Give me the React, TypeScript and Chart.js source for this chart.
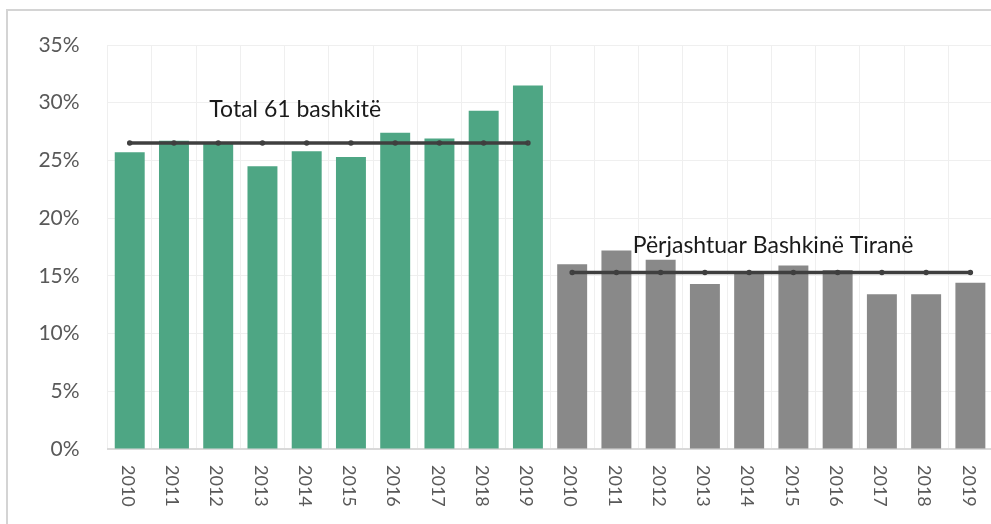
import React, { useEffect, useRef } from "react";
import { Chart, registerables } from "chart.js";

Chart.register(...registerables);

const years = ["2010", "2011", "2012", "2013", "2014", "2015", "2016", "2017", "2018", "2019"];
const categories = [...years, ...years];
const totalValues = [25.7, 26.7, 26.5, 24.5, 25.8, 25.3, 27.4, 26.9, 29.3, 31.5];
const exclTiranaValues = [16.0, 17.2, 16.4, 14.3, 15.3, 15.9, 15.5, 13.4, 13.4, 14.4];
const totalAverage = 26.5;
const exclTiranaAverage = 15.3;
const annotationTexts = ["Total 61 bashkitë", "Përjashtuar Bashkinë Tiranë"];
const annotationX = [3.74, 14.54];
const annotationY = [28.8, 17.0];
const yTicks = [0, 5, 10, 15, 20, 25, 30, 35];

const GREEN = "#4ea684";
const GRAY = "#898989";
const LINE = "#3f3f3f";
const TEXT = "#595959";

const customLabels = {
  id: "customLabels",
  afterDraw(chart: any) {
    const { ctx, scales } = chart;
    const x = scales.x;
    const y = scales.y;
    ctx.save();
    ctx.font = "18px Lato";
    ctx.fillStyle = TEXT;
    ctx.textAlign = "left";
    ctx.textBaseline = "middle";
    categories.forEach((lab, i) => {
      const px = x.getPixelForTick(i) - 2;
      ctx.save();
      ctx.translate(px, y.bottom + 16);
      ctx.rotate(Math.PI / 2);
      ctx.fillText(lab, 0, 0);
      ctx.restore();
    });
    ctx.font = "23px Lato";
    ctx.fillStyle = "#1a1a1a";
    ctx.textAlign = "center";
    ctx.textBaseline = "alphabetic";
    annotationTexts.forEach((t, i) => {
      ctx.fillText(t, x.getPixelForValue(annotationX[i]), y.getPixelForValue(annotationY[i]));
    });
    ctx.restore();
  },
};

export default function App() {
  const ref = useRef<HTMLCanvasElement>(null);
  useEffect(() => {
    if (!ref.current) return;
    const nullPad = Array(10).fill(null);
    const chart = new Chart(ref.current, {
      type: "bar",
      data: {
        labels: categories,
        datasets: [
          {
            type: "line",
            label: "Mesatarja total",
            data: [...Array(10).fill(totalAverage), ...nullPad],
            borderColor: LINE,
            backgroundColor: LINE,
            borderWidth: 3.5,
            pointRadius: 1,
            spanGaps: false,
            order: 0,
          } as any,
          {
            type: "line",
            label: "Mesatarja pa Tiranën",
            data: [...nullPad, ...Array(10).fill(exclTiranaAverage)],
            borderColor: LINE,
            backgroundColor: LINE,
            borderWidth: 3.5,
            pointRadius: 1,
            spanGaps: false,
            order: 0,
          } as any,
          {
            label: "Total 61 bashkitë",
            data: [...totalValues, ...nullPad],
            backgroundColor: GREEN,
            grouped: false,
            barPercentage: 0.677,
            categoryPercentage: 1,
            order: 1,
          } as any,
          {
            label: "Përjashtuar Bashkinë Tiranë",
            data: [...nullPad, ...exclTiranaValues],
            backgroundColor: GRAY,
            grouped: false,
            barPercentage: 0.677,
            categoryPercentage: 1,
            order: 1,
          } as any,
        ],
      },
      options: {
        responsive: false,
        animation: false,
        layout: { padding: { top: 45, right: 6.4, left: 0, bottom: 0 } },
        plugins: {
          legend: { display: false },
          tooltip: { enabled: false },
        },
        scales: {
          x: {
            grid: {
              offset: true,
              color: "#efefef",
              lineWidth: 1,
              drawTicks: false,
            } as any,
            border: { display: true, color: "#d9d9d9", width: 2 },
            ticks: { display: false },
            afterFit(scale: any) {
              scale.height = 75;
            },
          },
          y: {
            min: 0,
            max: 35,
            afterBuildTicks(scale: any) {
              scale.ticks = yTicks.map((v) => ({ value: v }));
            },
            grid: {
              color: (c: any) => (c.tick && c.tick.value === 0 ? "rgba(0,0,0,0)" : "#efefef"),
              lineWidth: 1,
              drawTicks: false,
            },
            border: { display: false },
            ticks: {
              color: TEXT,
              font: { family: "Lato", size: 21 },
              padding: 28,
              callback: (v: any) => v + "%",
            },
            afterFit(scale: any) {
              scale.width = 107.6;
            },
          },
        },
      },
      plugins: [customLabels],
    });
    return () => chart.destroy();
  }, []);

  return (
    <div style={{ position: "absolute", left: 0, top: 0, width: 991, height: 524, overflow: "hidden", background: "#fff" }}>
      <div
        style={{
          position: "absolute",
          left: 6,
          top: 9,
          width: 1100,
          height: 700,
          borderTop: "2px solid #d4d4d4",
          borderLeft: "2px solid #d4d4d4",
        }}
      />
      <canvas
        ref={ref}
        width={1000}
        height={524}
        style={{ position: "absolute", left: 0, top: 0, width: 1000, height: 524 }}
      />
    </div>
  );
}
